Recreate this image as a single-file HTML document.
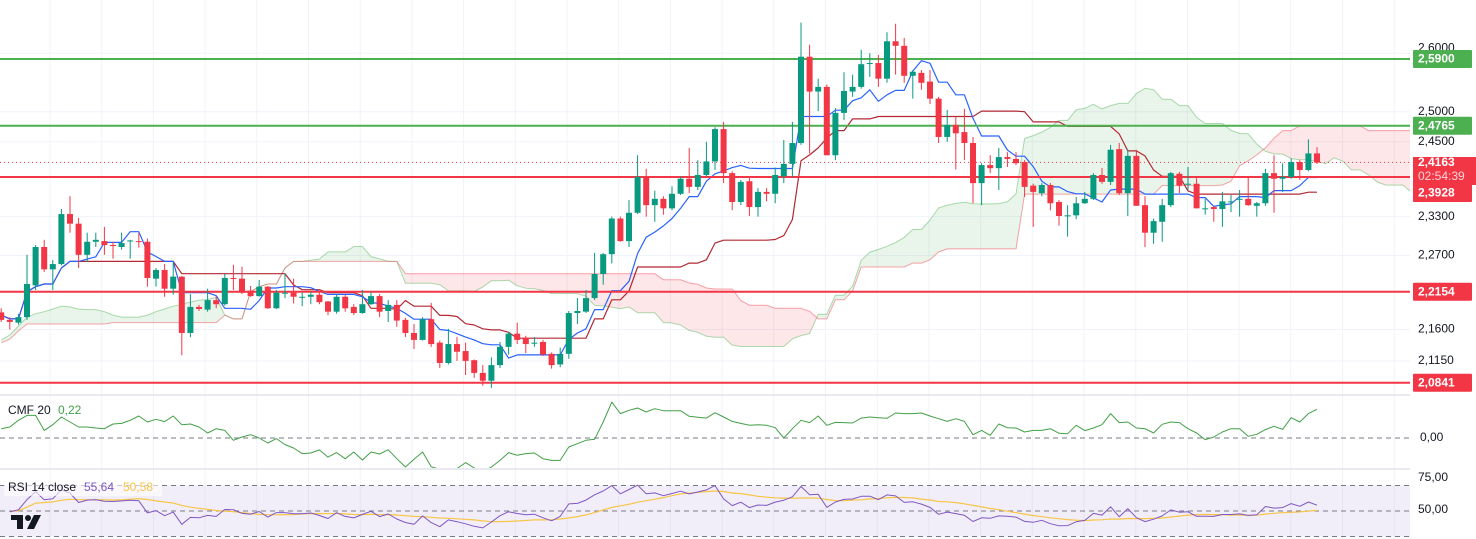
<!DOCTYPE html>
<html><head><meta charset="utf-8"><style>
html,body{margin:0;padding:0;background:#fff;width:1476px;height:539px;overflow:hidden}
svg{display:block}
text{font-family:"Liberation Sans",sans-serif}
</style></head><body>
<svg id="chart" width="1476" height="539" viewBox="0 0 1476 539" xmlns="http://www.w3.org/2000/svg">
<defs>
<clipPath id="mainClip"><rect x="0" y="0" width="1410" height="394"/></clipPath>
<clipPath id="cmfClip"><rect x="0" y="396" width="1410" height="72"/></clipPath>
<clipPath id="rsiClip"><rect x="0" y="470" width="1410" height="69"/></clipPath>
</defs>
<rect x="0" y="0" width="1476" height="539" fill="#fff"/>
<g id="grid"></g>
<g id="cloud" clip-path="url(#mainClip)"></g>
<g id="lines" clip-path="url(#mainClip)"></g>
<g id="levels" clip-path="url(#mainClip)"></g>
<g id="candles" clip-path="url(#mainClip)"></g>
<g id="cmf" clip-path="url(#cmfClip)"></g>
<g id="rsi" clip-path="url(#rsiClip)"></g>
<g id="axis"></g>
<g id="legend"></g>
<g fill="#131722">
<rect x="11" y="515" width="12" height="5"/><rect x="17" y="515" width="6" height="14"/>
<circle cx="28" cy="518" r="3"/><polygon points="34,515 41,515 34,529 27,529"/>
</g>
</svg>
<script>
const open=[2.185,2.174,2.170,2.178,2.225,2.283,2.249,2.257,2.334,2.319,2.271,2.291,2.292,2.286,2.283,2.292,2.292,2.291,2.235,2.248,2.220,2.238,2.155,2.193,2.189,2.203,2.197,2.236,2.235,2.217,2.209,2.223,2.191,2.213,2.214,2.207,2.208,2.211,2.201,2.186,2.208,2.193,2.184,2.197,2.209,2.187,2.196,2.174,2.155,2.145,2.175,2.141,2.112,2.139,2.129,2.116,2.098,2.087,2.109,2.135,2.154,2.148,2.140,2.142,2.125,2.110,2.125,2.184,2.186,2.206,2.242,2.272,2.327,2.292,2.336,2.393,2.348,2.358,2.343,2.366,2.390,2.377,2.396,2.418,2.471,2.399,2.353,2.386,2.345,2.369,2.366,2.394,2.414,2.448,2.594,2.534,2.542,2.428,2.498,2.534,2.542,2.582,2.583,2.556,2.621,2.613,2.561,2.566,2.551,2.522,2.458,2.478,2.466,2.448,2.383,2.412,2.407,2.425,2.422,2.417,2.379,2.367,2.380,2.353,2.331,2.332,2.351,2.358,2.396,2.385,2.438,2.367,2.427,2.348,2.305,2.322,2.348,2.398,2.381,2.382,2.342,2.345,2.342,2.353,2.357,2.358,2.347,2.351,2.399,2.390,2.393,2.417,2.404,2.431];
const high=[2.191,2.178,2.183,2.271,2.286,2.294,2.263,2.342,2.362,2.328,2.305,2.305,2.314,2.291,2.305,2.294,2.305,2.296,2.251,2.257,2.259,2.239,2.212,2.196,2.220,2.209,2.242,2.256,2.253,2.224,2.233,2.224,2.218,2.242,2.235,2.214,2.215,2.214,2.202,2.212,2.211,2.197,2.218,2.215,2.212,2.203,2.203,2.177,2.168,2.178,2.199,2.144,2.161,2.149,2.141,2.117,2.109,2.120,2.142,2.157,2.170,2.151,2.149,2.145,2.127,2.134,2.187,2.206,2.218,2.274,2.274,2.330,2.330,2.356,2.428,2.406,2.371,2.362,2.378,2.394,2.440,2.420,2.450,2.474,2.483,2.402,2.388,2.391,2.375,2.375,2.408,2.453,2.483,2.654,2.615,2.556,2.546,2.506,2.567,2.563,2.606,2.600,2.597,2.637,2.652,2.627,2.571,2.571,2.571,2.525,2.503,2.491,2.505,2.458,2.415,2.428,2.440,2.433,2.433,2.420,2.382,2.383,2.383,2.356,2.348,2.361,2.369,2.399,2.407,2.445,2.448,2.437,2.437,2.362,2.327,2.358,2.401,2.401,2.409,2.391,2.358,2.347,2.369,2.364,2.372,2.393,2.353,2.406,2.428,2.415,2.423,2.420,2.454,2.441];
const low=[2.171,2.160,2.167,2.174,2.218,2.245,2.218,2.255,2.305,2.251,2.260,2.283,2.271,2.265,2.279,2.265,2.282,2.223,2.223,2.208,2.211,2.123,2.149,2.187,2.186,2.191,2.195,2.218,2.212,2.208,2.208,2.190,2.190,2.206,2.198,2.194,2.197,2.197,2.181,2.183,2.186,2.181,2.183,2.196,2.178,2.171,2.164,2.149,2.132,2.144,2.135,2.105,2.110,2.115,2.095,2.091,2.080,2.077,2.105,2.124,2.139,2.126,2.135,2.122,2.104,2.106,2.118,2.168,2.184,2.203,2.226,2.258,2.291,2.283,2.334,2.330,2.322,2.333,2.340,2.364,2.367,2.372,2.393,2.404,2.383,2.340,2.348,2.331,2.330,2.354,2.351,2.383,2.393,2.445,2.431,2.501,2.428,2.420,2.486,2.525,2.539,2.559,2.542,2.549,2.563,2.549,2.522,2.537,2.513,2.448,2.450,2.405,2.420,2.351,2.348,2.399,2.372,2.409,2.412,2.361,2.314,2.362,2.340,2.316,2.299,2.326,2.350,2.356,2.382,2.380,2.364,2.331,2.347,2.283,2.288,2.291,2.345,2.367,2.372,2.343,2.333,2.322,2.314,2.337,2.330,2.347,2.330,2.347,2.336,2.369,2.390,2.388,2.402,2.414];
const close=[2.174,2.171,2.178,2.227,2.283,2.249,2.257,2.334,2.319,2.271,2.291,2.294,2.286,2.285,2.289,2.293,2.291,2.236,2.248,2.220,2.238,2.155,2.193,2.190,2.203,2.197,2.236,2.235,2.214,2.209,2.223,2.191,2.214,2.214,2.208,2.208,2.211,2.200,2.186,2.208,2.191,2.184,2.197,2.209,2.186,2.196,2.173,2.155,2.145,2.175,2.139,2.112,2.139,2.128,2.115,2.098,2.087,2.109,2.135,2.154,2.145,2.139,2.141,2.124,2.109,2.125,2.184,2.187,2.206,2.242,2.272,2.327,2.292,2.336,2.393,2.348,2.358,2.343,2.366,2.390,2.377,2.396,2.418,2.471,2.399,2.353,2.385,2.345,2.369,2.366,2.396,2.414,2.448,2.594,2.534,2.542,2.428,2.498,2.535,2.542,2.581,2.583,2.556,2.621,2.613,2.561,2.568,2.549,2.522,2.458,2.478,2.464,2.448,2.383,2.412,2.407,2.425,2.422,2.415,2.377,2.369,2.380,2.351,2.331,2.332,2.351,2.358,2.396,2.385,2.437,2.367,2.427,2.347,2.305,2.323,2.348,2.399,2.379,2.382,2.343,2.343,2.342,2.354,2.354,2.358,2.348,2.351,2.399,2.390,2.393,2.417,2.404,2.431,2.416];
const spanAPrior=[2.145,2.152,2.165,2.178,2.183,2.186,2.190,2.194,2.193,2.190,2.189,2.189,2.186,2.181,2.178,2.178,2.178,2.181,2.186,2.190,2.194,2.197,2.200,2.203,2.204,2.207];
const spanBPrior=[2.141,2.146,2.158,2.168,2.168,2.168,2.168,2.168,2.168,2.168,2.168,2.168,2.168,2.170,2.170,2.170,2.170,2.170,2.170,2.170,2.170,2.170,2.170,2.170,2.170,2.170];
const cmfValues=[0.073,0.087,0.139,0.178,0.178,0.060,0.105,0.165,0.126,0.087,0.087,0.079,0.073,0.110,0.115,0.139,0.173,0.126,0.147,0.129,0.173,0.105,0.110,0.087,0.039,0.073,0.060,-0.018,0.008,0.026,0,-0.039,-0.005,-0.052,-0.079,-0.123,-0.118,-0.094,-0.150,-0.115,-0.163,-0.110,-0.173,-0.110,-0.126,-0.092,-0.163,-0.228,-0.168,-0.110,-0.226,-0.247,-0.268,-0.241,-0.194,-0.236,-0.268,-0.228,-0.176,-0.115,-0.136,-0.123,-0.118,-0.163,-0.176,-0.176,-0.071,-0.045,-0.018,-0.010,0.126,0.283,0.192,0.218,0.236,0.205,0.231,0.215,0.215,0.215,0.171,0.163,0.157,0.199,0.165,0.131,0.115,0.100,0.105,0.100,0.081,0,0.073,0.139,0.121,0.173,0.100,0.123,0.121,0.118,0.157,0.165,0.160,0.155,0.197,0.192,0.192,0.197,0.173,0.152,0.131,0.152,0.131,0.026,0.060,0.021,0.110,0.081,0.079,0.047,0.060,0.060,0.073,0.037,0.034,0.100,0.058,0.079,0.105,0.192,0.121,0.126,0.079,0.073,0.039,0.108,0.126,0.121,0.073,0.039,-0.013,0.008,0.047,0.073,0.073,0.013,0.029,0.066,0.092,0.068,0.160,0.126,0.192,0.226];
const priceTicks=[2.6,2.5,2.45,2.33,2.27,2.16,2.115];
const tickLabels=["2,6000","2,5000","2,4500","2,3300","2,2700","2,1600","2,1150"];
const levelValues=[2.59,2.4765,2.3928,2.2154,2.0841];
const levelLabels=["2,5900","2,4765","2,3928","2,2154","2,0841"];
const levelColors=["#4caf50","#4caf50","#f23645","#f23645","#f23645"];
const lastPrice=2.4163;

const NS="http://www.w3.org/2000/svg";
function mk(tag,attrs,parent){const e=document.createElementNS(NS,tag);for(const k in attrs)e.setAttribute(k,attrs[k]);parent.appendChild(e);return e;}
const N=close.length, STEP=8.6, LASTX=1317;
function xAt(i){return LASTX-(N-1-i)*STEP;}
const LN0=Math.log(2.59);
function yP(p){return 59+1490*(LN0-Math.log(p));}
function yCmf(v){return 438-v*127;}
function yRsi(v){return 511-(v-50)*1.02;}
const G=id=>document.getElementById(id);

const grid=G('grid');
for(let x=50;x<1410;x+=51.7){const l=mk('line',{x1:x,x2:x,y1:0,y2:539,stroke:'#f0f3fa','stroke-width':1},grid);

}
priceTicks.forEach(t=>{const l=mk('line',{x1:0,x2:1410,y1:yP(t),y2:yP(t),stroke:'#f0f3fa'},grid);

});
[395,469].forEach(y=>{const l=mk('line',{x1:0,x2:1476,y1:y,y2:y,stroke:'#e0e3eb','stroke-width':1.5},grid);

});

function mid(i,p){let h=-1e9,l=1e9;for(let k=Math.max(0,i-p+1);k<=i;k++){h=Math.max(h,high[k]);l=Math.min(l,low[k]);}return (h+l)/2;}
const tenkan=[],kijun=[],spanAsrc=[],spanBsrc=[];
for(let i=0;i<N;i++){tenkan.push(mid(i,9));kijun.push(mid(i,26));spanAsrc.push((tenkan[i]+kijun[i])/2);spanBsrc.push(mid(i,52));}
// full cloud series by position: prior readings then displaced computed values
const cloudA=spanAPrior.concat(spanAsrc), cloudB=spanBPrior.concat(spanBsrc);
const cOff=26-spanAPrior.length;
const cloud=G('cloud');
for(let k=0;k<cloudA.length-1;k++){
 const a0=cloudA[k],a1=cloudA[k+1],b0=cloudB[k],b1=cloudB[k+1];
 const x0=xAt(k+cOff),x1=xAt(k+1+cOff);
 const up=a0>=b0;
 const pg=mk('polygon',{points:`${x0},${yP(a0)} ${x1},${yP(a1)} ${x1},${yP(b1)} ${x0},${yP(b0)}`,fill:up?'rgba(76,175,80,0.12)':'rgba(242,54,69,0.12)',stroke:'none'},cloud);
 
 
}
function polyline(vals,offset,color,w,parent,name,yf){let pts=[];vals.forEach((v,i)=>{if(v!=null)pts.push(xAt(i+offset).toFixed(1)+','+yf(v).toFixed(1));});
 const p=mk('polyline',{points:pts.join(' '),fill:'none',stroke:color,'stroke-width':w,'stroke-linejoin':'round'},parent);
 
 return p;}
polyline(cloudA,cOff,'rgba(76,175,80,0.45)',1,cloud,'senkou-span-a',yP);
polyline(cloudB,cOff,'rgba(242,54,69,0.45)',1,cloud,'senkou-span-b',yP);
const lines=G('lines');
polyline(kijun,0,'#b22833',1.2,lines,'kijun-line',yP);
polyline(tenkan,0,'#2962ff',1.2,lines,'tenkan-line',yP);

const lv=G('levels');
levelValues.forEach((v,i)=>{const l=mk('line',{x1:0,x2:1410,y1:yP(v),y2:yP(v),stroke:levelColors[i],'stroke-width':2},lv);

});
const cp=mk('line',{x1:0,x2:1410,y1:yP(lastPrice),y2:yP(lastPrice),stroke:'#f23645','stroke-width':1,'stroke-dasharray':'1,3'},lv);



const cg=G('candles');
for(let i=0;i<N;i++){
 const up=close[i]>=open[i];const col=up?'#089981':'#f23645';const x=xAt(i);
 const w=mk('line',{x1:x,x2:x,y1:yP(high[i]),y2:yP(low[i]),stroke:col,'stroke-width':1},cg);
 
 
 const t=Math.min(yP(open[i]),yP(close[i]));const h=Math.max(1,Math.abs(yP(open[i])-yP(close[i])));
 const b=mk('rect',{x:x-3,y:t,width:6,height:h,fill:col},cg);
 
 
}

const cmf=G('cmf');
const z=mk('line',{x1:0,x2:1410,y1:yCmf(0),y2:yCmf(0),stroke:'#787b86','stroke-dasharray':'5,4'},cmf);


polyline(cmfValues,0,'#43a047',1,cmf,'cmf-line',yCmf);

const rsiG=G('rsi');
const band=mk('rect',{x:0,y:yRsi(75),width:1410,height:yRsi(25)-yRsi(75),fill:'rgba(126,87,194,0.1)'},rsiG);


[75,50,25].forEach(v=>{const l=mk('line',{x1:0,x2:1410,y1:yRsi(v),y2:yRsi(v),stroke:'#787b86','stroke-dasharray':'5,4'},rsiG);

});
const rsi=[null];let ag=0.008,al=0.008;
for(let i=1;i<N;i++){const d=close[i]-close[i-1];
 ag=(ag*13+Math.max(d,0))/14;al=(al*13+Math.max(-d,0))/14;
 rsi.push(al===0?100:100-100/(1+ag/al));}
const rsiMa=rsi.map((v,i)=>{if(v==null)return null;let s=0,c=0;for(let k=Math.max(1,i-13);k<=i;k++){s+=rsi[k];c++;}return s/c;});
polyline(rsiMa,0,'#f7c548',1.2,rsiG,'rsi-ma-line',yRsi);
polyline(rsi,0,'#7e57c2',1,rsiG,'rsi-line',yRsi);

const ax=G('axis');
const axbg=mk('rect',{x:1410,y:0,width:66,height:539,fill:'#fff'},ax);


function txt(s,x,y,attrs,parent,name){const t=mk('text',Object.assign({x:x,y:y,'font-size':12,fill:'#131722','dominant-baseline':'middle'},attrs),parent);t.textContent=s;
 
 return t;}
priceTicks.forEach((t,i)=>txt(tickLabels[i],1418,yP(t)+(i===0?-5:0),{},ax,'price-tick-label'));
const boxY=[null,null,193,null,null];
levelValues.forEach((v,i)=>{const cy=boxY[i]||yP(v);
 const r=mk('rect',{x:1413,y:cy-9,width:59,height:18,fill:levelColors[i],rx:1},ax);
 
 
 txt(levelLabels[i],1418,cy+0.5,{fill:'#fff','font-weight':'bold'},ax,'level-price-text');});
const pb=mk('rect',{x:1413,y:157,width:63,height:28,fill:'#f23645'},ax);


txt('2,4163',1418,163,{fill:'#fff','font-weight':'bold'},ax,'last-price-text');
txt('02:54:39',1418,177,{fill:'#ffd6d9'},ax,'countdown-text');
txt('0,00',1420,438,{},ax,'cmf-zero-label');
txt('75,00',1418,478,{},ax,'rsi-75-label');
txt('50,00',1418,510,{},ax,'rsi-50-label');

const lg=G('legend');
txt('CMF 20',8,411,{},lg,'cmf-legend-title');
txt('0,22',58,411,{fill:'#43a047'},lg,'cmf-legend-value');
const lb=mk('rect',{x:4,y:479,width:158,height:17,fill:'rgba(255,255,255,0.6)'},lg);


txt('RSI 14 close',8,488,{},lg,'rsi-legend-title');
txt('55,64',84,488,{fill:'#7e57c2'},lg,'rsi-legend-value');
txt('50,58',123,488,{fill:'#f7c548'},lg,'rsi-ma-legend-value');
</script>
</body></html>
